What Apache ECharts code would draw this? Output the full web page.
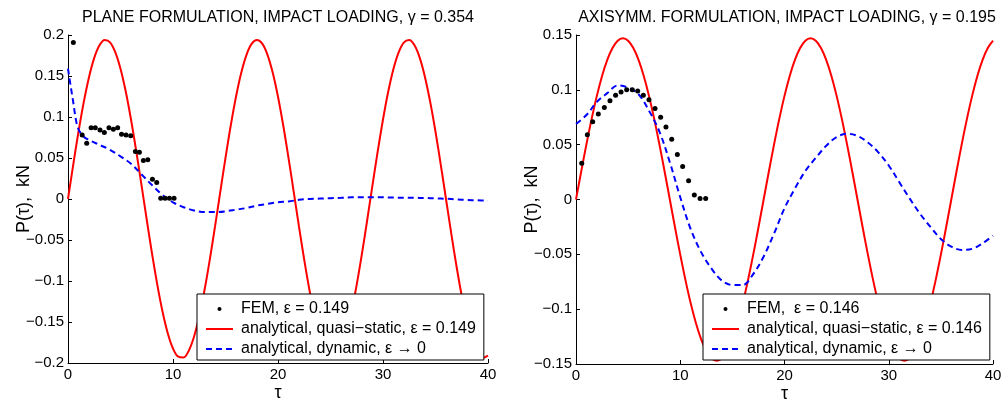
<!DOCTYPE html>
<html><head><meta charset="utf-8">
<script src="https://cdn.jsdelivr.net/npm/echarts@6/dist/echarts.min.js"></script>
<style>html,body{margin:0;padding:0;background:#fff}#c{width:1006px;height:403px}</style>
</head><body><div id="c"></div>
<script>
// ---------- data ----------
const tauHalf = [0,0.5,1,1.5,2,2.5,3,3.5,4,4.5,5,5.5,6,6.5,7,7.5,8,8.5,9,9.5,10,10.5,11,11.5,12,12.5,13,13.5,14,14.5,15,15.5,16,16.5,17,17.5,18,18.5,19,19.5,20,20.5,21,21.5,22,22.5,23,23.5,24,24.5,25,25.5,26,26.5,27,27.5,28,28.5,29,29.5,30,30.5,31,31.5,32,32.5,33,33.5,34,34.5,35,35.5,36,36.5,37,37.5,38,38.5,39,39.5,40];
const tauInt = [0,1,2,3,4,5,6,7,8,9,10,11,12,13,14,15,16,17,18,19,20,21,22,23,24,25,26,27,28,29,30,31,32,33,34,35,36,37,38,39,40];

// Left panel: plane formulation
const quasiL = [0,0.042,0.082,0.1181,0.1486,0.1721,0.1874,0.1938,0.1911,0.1792,
  0.1589,0.1311,0.097,0.0583,0.0169,-0.0253,-0.0664,-0.1042,-0.1372,-0.1636,
  -0.1823,-0.1923,-0.1933,-0.185,-0.168,-0.143,-0.1113,-0.0742,-0.0337,0.0085,
  0.0502,0.0896,0.1247,0.1539,0.1758,0.1894,0.194,0.1894,0.1758,0.1539,
  0.1247,0.0896,0.0502,0.0085,-0.0337,-0.0742,-0.1113,-0.143,-0.168,-0.185,
  -0.1933,-0.1923,-0.1823,-0.1636,-0.1372,-0.1042,-0.0664,-0.0253,0.0169,0.0583,
  0.097,0.1311,0.1589,0.1792,0.1911,0.1938,0.1874,0.1721,0.1486,0.1181,
  0.082,0.042,0,-0.042,-0.082,-0.1181,-0.1486,-0.1721,-0.1874,-0.1938,-0.1911];
const dynLTau = [0,0.25,0.5,0.75,1,1.5,2,3,4,5,6,7,8,9,10,11,12,13,14,15,16,17,18,19,20,21,22,23,24,25,26,27,28,29,30,31,32,33,34,35,36,37,38,39,40];
const dynL = [0.159,0.138,0.118,0.097,0.085,0.076,0.072,0.066,0.060,0.052,0.043,0.030,0.017,0.005,-0.004,-0.010,-0.014,-0.016,-0.016,-0.015,-0.013,-0.011,-0.008,-0.006,-0.004,-0.003,-0.001,0,0.0005,0.001,0.0015,0.002,0.002,0.002,0.002,0.0017,0.0016,0.0015,0.0012,0.0008,0.0003,-0.0005,-0.0012,-0.0016,-0.002];
const femLTau = [0.51,1.35,1.78,2.2,2.6,3.05,3.46,3.9,4.32,4.73,5.1,5.53,5.97,6.42,6.8,7.18,7.6,8.04,8.45,8.83,9.25,9.66,10.1];
const femL = [0.191,0.078,0.068,0.087,0.087,0.084,0.081,0.087,0.085,0.087,0.079,0.078,0.077,0.058,0.057,0.047,0.048,0.024,0.020,0.001,0.001,0.001,0.001];

// Right panel: axisymmetric formulation
const quasiR = [0,0.0255,0.0503,0.0735,0.0945,0.1126,0.1273,0.1381,0.1448,0.147,0.1448,0.1381,0.1273,0.1126,0.0945,0.0735,0.0503,0.0255,
  0,-0.0255,-0.0503,-0.0735,-0.0945,-0.1126,-0.1273,-0.1381,-0.1448,-0.147,-0.1448,-0.1381,-0.1273,-0.1126,-0.0945,-0.0735,-0.0503,-0.0255,
  0,0.0255,0.0503,0.0735,0.0945,0.1126,0.1273,0.1381,0.1448,0.147,0.1448,0.1381,0.1273,0.1126,0.0945,0.0735,0.0503,0.0255,
  0,-0.0255,-0.0503,-0.0735,-0.0945,-0.1126,-0.1273,-0.1381,-0.1448,-0.147,-0.1448,-0.1381,-0.1273,-0.1126,-0.0945,-0.0735,-0.0503,-0.0255,
  0,0.0255,0.0503,0.0735,0.0945,0.1126,0.1273,0.1381,0.1448];
const dynR = [0.069,0.077,0.089,0.097,0.104,0.102,0.096,0.081,0.062,0.034,
  0.002,-0.027,-0.048,-0.063,-0.074,-0.078,-0.078,-0.068,-0.052,-0.031,
  -0.008,0.010,0.026,0.038,0.049,0.057,0.060,0.058,0.052,0.043,
  0.031,0.016,0.001,-0.013,-0.025,-0.036,-0.043,-0.046,-0.045,-0.040,-0.033];
const femRTau = [0.55,1.09,1.6,2.14,2.72,3.26,3.8,4.32,4.86,5.4,5.92,6.46,7.0,7.58,8.12,8.63,9.18,9.72,10.23,10.8,11.35,11.9,12.44];
const femR = [0.033,0.059,0.071,0.078,0.084,0.090,0.095,0.098,0.100,0.100,0.099,0.095,0.091,0.083,0.075,0.066,0.055,0.041,0.030,0.017,0.004,0.001,0.001];

const titles = ['PLANE FORMULATION, IMPACT LOADING, \u03b3 = 0.354', 'AXISYMM. FORMULATION, IMPACT LOADING, \u03b3 = 0.195'];
const namesL = ['FEM, \u03b5 = 0.149', 'analytical, quasi\u2212static, \u03b5 = 0.149', 'analytical, dynamic, \u03b5 \u2192 0'];
const namesR = ['FEM,  \u03b5 = 0.146', 'analytical, quasi\u2212static, \u03b5 = 0.146', 'analytical, dynamic, \u03b5 \u2192 0 '];
const xTicks = {min: 0, max: 40, interval: 10};
const yTicksL = {min: -0.2, max: 0.2, interval: 0.05};
const yTicksR = {min: -0.15, max: 0.15, interval: 0.05};

// ---------- chart ----------
const FONT = '"Liberation Sans", Arial, Helvetica, sans-serif';
const zip = (xs, ys) => xs.map((x, i) => [x, ys[i]]);
const fmt = v => { const r = parseFloat(v.toFixed(2)); return r < 0 ? '\u2212' + Math.abs(r) : String(r); };

function xAxis(gi) {
  return {
    gridIndex: gi, type: 'value', min: xTicks.min, max: xTicks.max, interval: xTicks.interval,
    name: '\u03c4', nameLocation: 'middle', nameGap: 21, nameMoveOverlap: false,
    nameTextStyle: {fontSize: 18, color: '#000', fontFamily: FONT},
    axisLine: {onZero: false, lineStyle: {color: '#000', width: 1}},
    axisTick: {inside: true, length: 4, lineStyle: {color: '#000'}},
    axisLabel: {fontSize: 15, color: '#000', margin: 4, fontFamily: FONT},
    splitLine: {show: false}
  };
}
function yAxis(gi, t) {
  return {
    gridIndex: gi, type: 'value', min: t.min, max: t.max, interval: t.interval,
    name: 'P(\u03c4),  kN', nameLocation: 'middle', nameGap: 35, nameMoveOverlap: false,
    nameTextStyle: {fontSize: 18, color: '#000', fontFamily: FONT},
    axisLine: {onZero: false, lineStyle: {color: '#000', width: 1}},
    axisTick: {inside: true, length: 4, lineStyle: {color: '#000'}},
    axisLabel: {fontSize: 15, color: '#000', margin: 4, fontFamily: FONT, formatter: fmt},
    splitLine: {show: false}
  };
}
function legend(left, names) {
  return {
    orient: 'vertical', left: left, top: 294, padding: [5, 8, 1, 8],
    itemWidth: 27, itemHeight: 4, itemGap: 0,
    backgroundColor: '#fff', borderColor: '#000', borderWidth: 1, borderRadius: 0,
    selectedMode: false,
    textStyle: {fontSize: 16, lineHeight: 20, color: '#000', fontFamily: FONT, padding: [0, 0, 0, 3]},
    data: [
      {name: names[0]},
      {name: names[1], itemStyle: {opacity: 0}},
      {name: names[2], itemStyle: {opacity: 0}}
    ]
  };
}
function seriesSet(gi, names, femX, femY, qX, qY, dX, dY) {
  return [
    {name: names[1], type: 'line', xAxisIndex: gi, yAxisIndex: gi, data: zip(qX, qY), symbol: 'none', smooth: 0.35,
     color: '#ff0000', lineStyle: {color: '#ff0000', width: 2}},
    {name: names[2], type: 'line', xAxisIndex: gi, yAxisIndex: gi, data: zip(dX, dY), symbol: 'none', smooth: 0.35,
     color: '#0000ff', lineStyle: {color: '#0000ff', width: 2, type: [6, 4]}},
    {name: names[0], type: 'scatter', xAxisIndex: gi, yAxisIndex: gi, data: zip(femX, femY), symbol: 'circle', symbolSize: 5,
     color: '#000', itemStyle: {color: '#000', opacity: 1}, z: 3}
  ];
}

const chart = echarts.init(document.getElementById('c'), null, {renderer: 'canvas'});
chart.setOption({
  animation: false,
  backgroundColor: '#fff',
  title: [
    {text: titles[0], left: 273, top: 5, textAlign: 'center', textStyle: {fontSize: 16, fontWeight: 'normal', color: '#000', fontFamily: FONT}},
    {text: titles[1], left: 782, top: 5, textAlign: 'center', textStyle: {fontSize: 16, fontWeight: 'normal', color: '#000', fontFamily: FONT}}
  ],
  grid: [
    {left: 68, top: 35, width: 420, height: 328, outerBoundsMode: 'none', containLabel: false},
    {left: 576, top: 35, width: 417, height: 329, outerBoundsMode: 'none', containLabel: false}
  ],
  xAxis: [xAxis(0), xAxis(1)],
  yAxis: [yAxis(0, yTicksL), yAxis(1, yTicksR)],
  legend: [legend(197, namesL), legend(703, namesR)],
  series: [].concat(
    seriesSet(0, namesL, femLTau, femL, tauHalf, quasiL, dynLTau, dynL),
    seriesSet(1, namesR, femRTau, femR, tauHalf, quasiR, tauInt, dynR)
  )
});
</script></body></html>
